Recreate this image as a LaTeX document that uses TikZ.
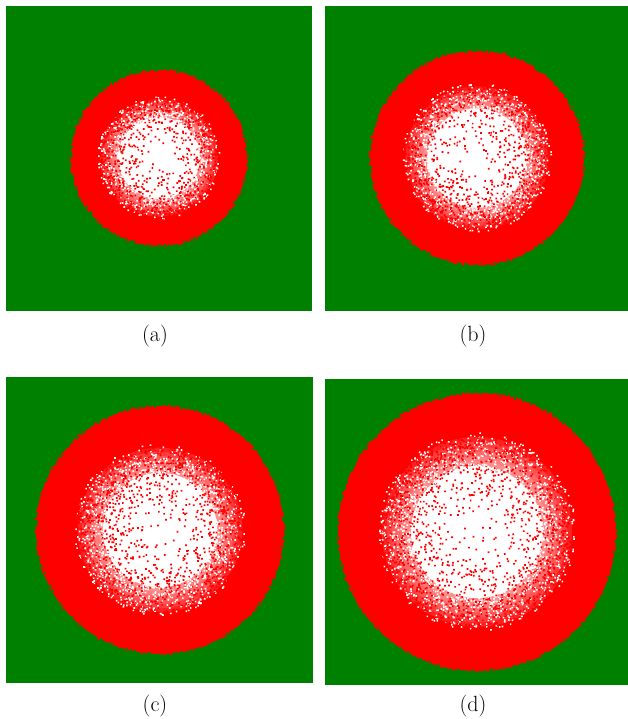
\documentclass[tikz,border=0pt]{standalone}
\definecolor{pgreen}{RGB}{0,128,0}
\definecolor{pred}{RGB}{255,0,0}
\tikzset{labeltext/.style={font=\fontsize{22}{26}\selectfont, inner sep=0pt}}
% #1 cx, #2 cy, #3 R, #4 r1, #5-#8 square, #9 chunks of dots
\newcommand\mypanel[9]{%
  \fill[pgreen] (#5,#6) rectangle (#7,#8);
  \fill[pred] (#1,#2) circle (#3pt);
  \fill[pred] \foreach \k [evaluate=\k as \ang using 360*rnd, evaluate=\k as \rad using #3+0.9*rnd] in {1,...,120} {([shift={(#1-0.8,#2-0.8)}]\ang:\rad pt) rectangle +(1.6,1.6)};
  \fill[pgreen] \foreach \k [evaluate=\k as \ang using 360*rnd, evaluate=\k as \rad using #3-0.9*rnd] in {1,...,120} {([shift={(#1-0.8,#2-0.8)}]\ang:\rad pt) rectangle +(1.6,1.6)};
  \foreach \i in {0,...,5}{%
    \fill[white, fill opacity=0.13] (#1,#2) circle ({(0.68+0.30*(1-\i/6))*#4*1pt});
  }
  \fill[white] (#1,#2) circle ({0.68*#4*1pt});
  \foreach \c in {1,...,#9}{%
    \fill[white] \foreach \k [evaluate=\k as \ang using 360*rnd, evaluate=\k as \rad using #4*(0.66+0.36*rnd^1.4)] in {1,...,240} {([shift={(#1-0.8,#2-0.8)}]\ang:\rad pt) rectangle +(1.6,1.6)};
    \fill[pred] \foreach \k [evaluate=\k as \ang using 360*rnd, evaluate=\k as \rad using #4*(rnd^0.3)] in {1,...,300} {([shift={(#1-0.85,#2-0.85)}]\ang:\rad pt) rectangle +(1.7,1.7)};
  }
}
\begin{document}
\begin{tikzpicture}[x=1pt,y=-1pt]
\pgfmathsetseed{12345}
\useasboundingbox (0,0) rectangle (628,719);
\mypanel{159}{158}{88}{60}{6}{6}{312}{311}{3}
\mypanel{477}{158}{107}{73}{325}{6}{628}{311}{4}
\mypanel{160}{530}{124}{84}{6}{377}{313}{683}{5}
\mypanel{477}{532}{139}{97}{325}{379}{628}{685}{6}
\node[labeltext] (la) at (155,336) {(a)};
\node[labeltext] (lb) at (473,336) {(b)};
\node[labeltext] (lc) at (155,706) {(c)};
\node[labeltext] (ld) at (473,706) {(d)};
\end{tikzpicture}
\end{document}
